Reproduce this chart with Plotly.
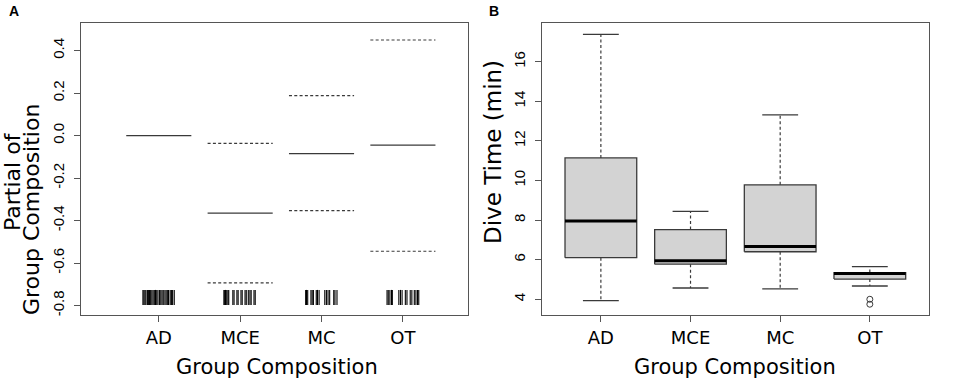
import plotly.graph_objects as go

# ---------------- data ----------------
groups = ["AD", "MCE", "MC", "OT"]

# Panel A: partial effect of group composition (fit and +/- 2 SE)
partial_fit = [0.0, -0.365, -0.085, -0.045]
partial_upper = [None, -0.036, 0.188, 0.450]
partial_lower = [None, -0.693, -0.353, -0.544]

# rug (jittered observation positions, offsets from the group position)
rug_AD = [-0.195, -0.183, -0.17, -0.158, -0.14, -0.128, -0.115, -0.1, -0.085, -0.07,
          -0.055, -0.04, -0.025, -0.01, 0.01, 0.025, 0.04, 0.055, 0.075, 0.09,
          0.105, 0.12, 0.14, 0.155, 0.17, 0.19]
rug_MCE = [-0.2, -0.19, -0.18, -0.165, -0.15, -0.14, -0.09, -0.075, -0.04, -0.025,
           0.01, 0.025, 0.06, 0.075, 0.1, 0.12, 0.135, 0.17, 0.185]
rug_MC = [-0.195, -0.185, -0.17, -0.13, -0.115, -0.1, -0.065, -0.05, -0.03,
          0.04, 0.06, 0.08, 0.1, 0.15, 0.165, 0.19]
rug_OT = [-0.195, -0.18, -0.16, -0.14, -0.13, -0.05, -0.03, -0.01, 0.03, 0.05,
          0.09, 0.11, 0.14, 0.16, 0.18, 0.195]
rug_offsets = [rug_AD, rug_MCE, rug_MC, rug_OT]

# Panel B: dive time (min) box plot statistics
dive_low = [3.93, 4.57, 4.52, 4.67]
dive_q1 = [6.10, 5.77, 6.40, 5.02]
dive_median = [7.95, 5.95, 6.66, 5.30]
dive_q3 = [11.14, 7.52, 9.78, 5.35]
dive_high = [17.38, 8.44, 13.31, 5.65]
outlier_group = ["OT", "OT"]
outlier_value = [4.00, 3.75]

yticks_A = [0.4, 0.2, 0.0, -0.2, -0.4, -0.6, -0.8]
yticklabels_A = ["0.4", "0.2", "0.0", "-0.2", "-0.4", "-0.6", "-0.8"]
yticks_B = [4, 6, 8, 10, 12, 14, 16]

# ---------------- style ----------------
W, H = 957, 380
LINE = "#3a3a3a"
AX = "#555555"
TICKFONT = dict(family="Liberation Sans, Arial", size=15, color="black")
XTICKFONT = dict(family="DejaVu Sans, Verdana", size=18, color="black")
TITLEFONT = dict(family="DejaVu Sans, Verdana", size=21, color="black")
YTITLEFONT = dict(family="DejaVu Sans, Verdana", size=22, color="black")
half = 0.4
cap = 0.2

fig = go.Figure()
pos = {g: i + 1 for i, g in enumerate(groups)}

# ---- Panel A ----
def segs(vals):
    xs, ys = [], []
    for g, v in zip(groups, vals):
        if v is None:
            continue
        xs += [pos[g] - half, pos[g] + half, None]
        ys += [v, v, None]
    return xs, ys

x, y = segs(partial_fit)
fig.add_trace(go.Scatter(x=x, y=y, mode="lines", line=dict(color=LINE, width=1.3),
                         xaxis="x", yaxis="y", hoverinfo="skip"))
for band in (partial_upper, partial_lower):
    x, y = segs(band)
    fig.add_trace(go.Scatter(x=x, y=y, mode="lines",
                             line=dict(color=LINE, width=1.2, dash="3px,2.3px"),
                             xaxis="x", yaxis="y", hoverinfo="skip"))

rug_top, rug_bot = -0.726, -0.797
rx, ry = [], []
for g, offs in zip(groups, rug_offsets):
    for o in offs:
        rx += [pos[g] + o, pos[g] + o, None]
        ry += [rug_bot, rug_top, None]
fig.add_trace(go.Scatter(x=rx, y=ry, mode="lines", line=dict(color="black", width=1.1),
                         xaxis="x", yaxis="y", hoverinfo="skip"))

# ---- Panel B ----
for g, lo, q1, md, q3, hi in zip(groups, dive_low, dive_q1, dive_median, dive_q3, dive_high):
    p = pos[g]
    fig.add_trace(go.Scatter(x=[p - half, p + half, p + half, p - half, p - half],
                             y=[q1, q1, q3, q3, q1], mode="lines", fill="toself",
                             fillcolor="#d3d3d3", line=dict(color=LINE, width=1.3),
                             xaxis="x2", yaxis="y2", hoverinfo="skip"))
    fig.add_trace(go.Scatter(x=[p, p, None, p, p], y=[q3, hi, None, q1, lo], mode="lines",
                             line=dict(color=LINE, width=1.2, dash="3px,2.5px"),
                             xaxis="x2", yaxis="y2", hoverinfo="skip"))
    fig.add_trace(go.Scatter(x=[p - cap, p + cap, None, p - cap, p + cap],
                             y=[hi, hi, None, lo, lo], mode="lines",
                             line=dict(color=LINE, width=1.3),
                             xaxis="x2", yaxis="y2", hoverinfo="skip"))
    fig.add_trace(go.Scatter(x=[p - half, p + half], y=[md, md], mode="lines",
                             line=dict(color="black", width=3),
                             xaxis="x2", yaxis="y2", hoverinfo="skip"))

fig.add_trace(go.Scatter(x=[pos[g] for g in outlier_group], y=outlier_value, mode="markers",
                         marker=dict(symbol="circle-open", size=6, color=LINE,
                                     line=dict(width=1, color=LINE)),
                         xaxis="x2", yaxis="y2", hoverinfo="skip"))

# ---------------- layout ----------------
def px_x(a, b):
    return [a / W, b / W]

def px_y(top, bot):
    return [(H - bot) / H, (H - top) / H]

axis_common = dict(showline=True, mirror=True, linecolor=AX, linewidth=1.3,
                   ticks="outside", ticklen=6, tickcolor=AX, tickwidth=1.2,
                   showgrid=False, zeroline=False)

fig.update_layout(
    width=W, height=H, margin=dict(l=0, r=0, t=0, b=0),
    paper_bgcolor="white", plot_bgcolor="white", showlegend=False,
    xaxis=dict(domain=px_x(81, 468), range=[0.044, 4.80],
               tickvals=[pos[g] for g in groups], ticktext=groups,
               tickfont=XTICKFONT, ticklabelstandoff=0, anchor="y", **axis_common),
    yaxis=dict(domain=px_y(23, 315), range=[-0.844, 0.530],
               tickvals=yticks_A, ticktext=yticklabels_A, tickangle=-90,
               tickfont=TICKFONT, ticklabelstandoff=4, anchor="x", **axis_common),
    xaxis2=dict(domain=px_x(541.7, 929), range=[0.34, 4.66],
                tickvals=[pos[g] for g in groups], ticktext=groups,
                tickfont=XTICKFONT, ticklabelstandoff=0, anchor="y2", **axis_common),
    yaxis2=dict(domain=px_y(23.3, 315.3), range=[3.19, 17.94],
                tickvals=yticks_B, ticktext=[str(v) for v in yticks_B], tickangle=-90,
                tickfont=TICKFONT, ticklabelstandoff=4, anchor="x2", **axis_common),
)

ann = [
    dict(text="<b>A</b>", x=7 / W, y=(H - 11) / H, xanchor="left", yanchor="middle",
         font=dict(family="Liberation Sans, Arial", size=14, color="black")),
    dict(text="<b>B</b>", x=487 / W, y=(H - 11) / H, xanchor="left", yanchor="middle",
         font=dict(family="Liberation Sans, Arial", size=14, color="black")),
    dict(text="Group Composition", x=277 / W, y=(H - 367) / H, xanchor="center",
         yanchor="middle", font=TITLEFONT),
    dict(text="Group Composition", x=735 / W, y=(H - 367) / H, xanchor="center",
         yanchor="middle", font=TITLEFONT),
    dict(text="Partial of", x=12 / W, y=(H - 182) / H, textangle=-90, xanchor="center",
         yanchor="middle", font=YTITLEFONT),
    dict(text="Group Composition", x=32 / W, y=(H - 210) / H, textangle=-90,
         xanchor="center", yanchor="middle", font=YTITLEFONT),
    dict(text="Dive Time (min)", x=493 / W, y=(H - 152) / H, textangle=-90,
         xanchor="center", yanchor="middle",
         font=dict(family="DejaVu Sans, Verdana", size=23, color="black")),
]
for a in ann:
    a.update(xref="paper", yref="paper", showarrow=False)
fig.update_layout(annotations=ann)

fig.write_html("out.html", config={"displayModeBar": False},
               post_script="document.body.style.margin='0px';")
